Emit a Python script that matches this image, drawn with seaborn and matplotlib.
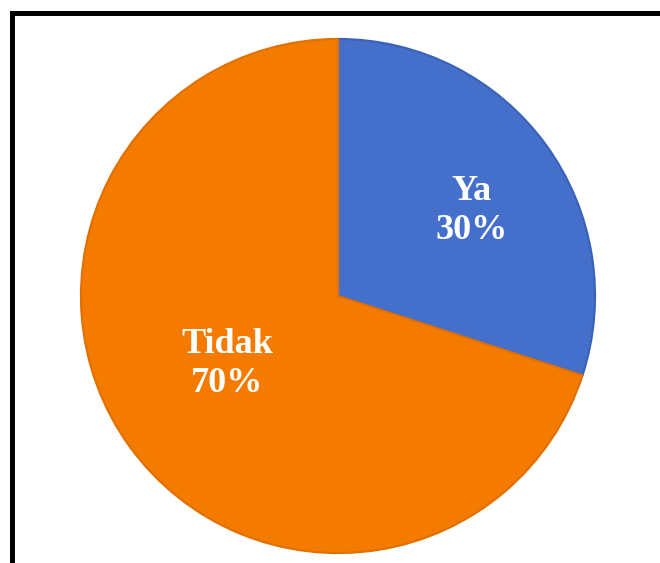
import matplotlib
matplotlib.use("Agg")
import matplotlib.pyplot as plt
import seaborn as sns
from matplotlib.patches import Rectangle

categories = ["Ya", "Tidak"]
values = [30, 70]
pct_labels = ["30%", "70%"]

sns.set_theme(style="white")
plt.rcParams['font.family'] = ['Liberation Serif', 'DejaVu Serif']

colors = ["#4470CC", "#F57B00"]
edges = ["#3A62B8", "#E27000"]

W, H = 660, 563
fig = plt.figure(figsize=(W / 100, H / 100), dpi=100)
fig.patch.set_facecolor("white")

cx, cy, r = 338, 296, 257
ax = fig.add_axes([(cx - r) / W, (H - cy - r) / H, 2 * r / W, 2 * r / H])
wedges, _ = ax.pie(values, colors=colors, startangle=90, counterclock=False,
                   radius=1.0, wedgeprops=dict(linewidth=1.6))
for w, e in zip(wedges, edges):
    w.set_edgecolor(e)
ax.set_xlim(-1, 1)
ax.set_ylim(-1, 1)
ax.set_aspect("equal")
ax.axis("off")

label_pos = [(0.521, 0.33), (-0.432, -0.265)]
for (x, y), cat, pct in zip(label_pos, categories, pct_labels):
    ax.text(x, y, f"{cat}\n{pct}", ha="center", va="center", color="white",
            fontsize=26, fontweight="bold", linespacing=1.22)

# outer frame (only left and top visible)
fig.patches.append(Rectangle((11.5 / W, -0.2), 2.0, (H - 12.5) / H + 0.2,
                             transform=fig.transFigure, fill=False,
                             edgecolor="black", linewidth=3.6))

fig.savefig("out.png", dpi=100, facecolor="white")
